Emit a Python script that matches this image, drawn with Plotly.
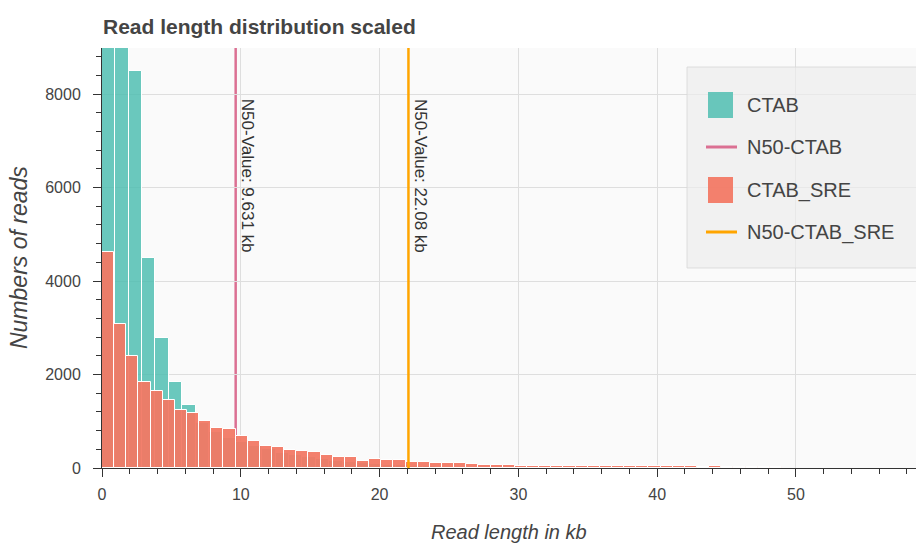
import plotly.graph_objects as go

# ---------------- data ----------------
TITLE = "Read length distribution scaled"
X_TITLE = "Read length in kb"
Y_TITLE = "Numbers of reads"

SERIES_NAMES = ["CTAB", "CTAB_SRE"]

# CTAB histogram (bin width in kb, counts per bin starting at 0 kb)
CTAB_BIN_KB = 0.963
CTAB_COUNTS = [11800, 10300, 8500, 4490, 2790, 1830, 1340, 960, 760, 640,
               560, 470, 400, 330, 280, 235, 195, 160, 130, 105,
               85, 70, 55, 45, 36, 28, 22, 17, 13, 10,
               8, 6, 5, 4, 3, 2, 2, 1, 1]

# CTAB_SRE histogram
SRE_BIN_KB = 0.875
SRE_COUNTS = [4620, 3090, 2390, 1830, 1650, 1460, 1245, 1175, 995, 850,
              830, 686, 585, 472, 457, 395, 365, 350, 280, 245,
              240, 160, 185, 172, 170, 136, 122, 114, 112, 100,
              75, 58, 68, 55, 52, 48, 50, 46, 44, 47,
              42, 40, 41, 38, 39, 36, 34, 36, 33, 32,
              34, 30, 31, 29, 28, 26]

N50_NAMES = ["N50-CTAB", "N50-CTAB_SRE"]
N50_VALUES = [9.631, 22.08]
N50_LABELS = ["N50-Value: 9.631 kb", "N50-Value: 22.08 kb"]

X_TICKS = [0, 10, 20, 30, 40, 50]
Y_TICKS = [0, 2000, 4000, 6000, 8000]
X_RANGE = [0, 58.65]
Y_RANGE = [0, 8985]

# ---------------- style ----------------
TEAL = "rgba(80,190,178,0.85)"
SALMON = "rgba(242,120,100,0.94)"
PINK = "#db7093"
ORANGE = "#ffa500"
FONT = "Liberation Sans, Arial, sans-serif"
TXT = "#444444"

W, H = 916, 544
L, R, T, B = 102, 0, 48, 76
PW, PH = W - L - R, H - T - B


def px(xp):
    return (xp - L) / PW


def py(yp):
    return (H - B - yp) / PH


def bar_trace(name, w, counts, color):
    return go.Bar(
        name=name,
        x=[(i + 0.5) * w for i in range(len(counts))],
        y=counts,
        width=w,
        marker=dict(color=color, line=dict(color="white", width=1)),
        showlegend=False,
    )


fig = go.Figure()
fig.add_trace(bar_trace(SERIES_NAMES[0], CTAB_BIN_KB, CTAB_COUNTS, TEAL))
fig.add_trace(bar_trace(SERIES_NAMES[1], SRE_BIN_KB, SRE_COUNTS, SALMON))
# N50-CTAB_SRE line drawn on top of the bars
fig.add_trace(go.Scatter(
    name=N50_NAMES[1], x=[N50_VALUES[1], N50_VALUES[1]], y=[Y_RANGE[0], Y_RANGE[1]],
    mode="lines", line=dict(color=ORANGE, width=2.5), showlegend=False,
))

shapes = []
# N50-CTAB line sits beneath the CTAB_SRE bars
shapes.append(dict(type="line", xref="x", yref="paper",
                   x0=N50_VALUES[0], x1=N50_VALUES[0], y0=0, y1=1,
                   line=dict(color=PINK, width=2.5), layer="between"))

annotations = []
for v, lab in zip(N50_VALUES, N50_LABELS):
    annotations.append(dict(
        x=v, xref="x", y=py(97), yref="paper", text=lab, showarrow=False,
        textangle=90, xanchor="left", yanchor="top", xshift=1,
        font=dict(family=FONT, size=17, color="#333333"),
    ))

# axis titles
annotations.append(dict(
    x=0, xref="paper", y=0.5, yref="paper", text=Y_TITLE, showarrow=False,
    textangle=-90, xanchor="center", yanchor="middle", xshift=19 - L,
    font=dict(family=FONT, size=23, color=TXT, style="italic"),
))
annotations.append(dict(
    x=0.5, xref="paper", y=0, yref="paper", text=X_TITLE, showarrow=False,
    xanchor="center", yanchor="middle", yshift=-(532 - (H - B)),
    font=dict(family=FONT, size=20, color=TXT, style="italic"),
))

# manual legend
shapes.append(dict(type="rect", xref="paper", yref="paper",
                   x0=px(687), x1=px(935), y0=py(268), y1=py(67),
                   fillcolor="rgba(236,236,236,0.65)",
                   line=dict(color="rgba(215,215,215,0.8)", width=1), layer="above"))
legend_rows = [
    (SERIES_NAMES[0], "box", TEAL, 105),
    (N50_NAMES[0], "line", PINK, 147),
    (SERIES_NAMES[1], "box", SALMON, 190),
    (N50_NAMES[1], "line", ORANGE, 232),
]
for lab, kind, col, yc in legend_rows:
    if kind == "box":
        shapes.append(dict(type="rect", xref="paper", yref="paper",
                           x0=px(708), x1=px(733), y0=py(yc + 13), y1=py(yc - 13),
                           fillcolor=col, line=dict(width=0), layer="above"))
    else:
        shapes.append(dict(type="line", xref="paper", yref="paper",
                           x0=px(706), x1=px(737), y0=py(yc), y1=py(yc),
                           line=dict(color=col, width=3), layer="above"))
    annotations.append(dict(
        x=px(745), xref="paper", y=py(yc), yref="paper", text=lab,
        showarrow=False, xanchor="left", yanchor="middle",
        font=dict(family=FONT, size=20, color=TXT),
    ))

axis_common = dict(
    showline=True, linecolor="#333333", linewidth=1,
    ticks="outside", ticklen=8, tickwidth=1, tickcolor="#333333",
    showgrid=True, gridcolor="#dedede", gridwidth=1.3,
    zeroline=False,
    tickfont=dict(family=FONT, size=16, color=TXT),
)

fig.update_layout(
    width=W, height=H,
    margin=dict(l=L, r=R, t=T, b=B, pad=0),
    paper_bgcolor="white", plot_bgcolor="#fafafa",
    barmode="overlay", bargap=0,
    title=dict(text=TITLE, xref="container", x=(L + 1) / W, xanchor="left",
               yref="container", y=1 - 27 / H, yanchor="middle",
               font=dict(family=FONT, size=21, color=TXT, weight="bold")),
    xaxis=dict(range=X_RANGE, tickvals=X_TICKS, ticklabelstandoff=4,
               minor=dict(dtick=2, ticks="outside", ticklen=5, tickcolor="#333333",
                          showgrid=False),
               **axis_common),
    yaxis=dict(range=Y_RANGE, tickvals=Y_TICKS, ticklabelstandoff=9,
               minor=dict(dtick=400, ticks="outside", ticklen=5, tickcolor="#333333",
                          showgrid=False),
               **axis_common),
    shapes=shapes,
    annotations=annotations,
)

fig.write_html("out.html")
